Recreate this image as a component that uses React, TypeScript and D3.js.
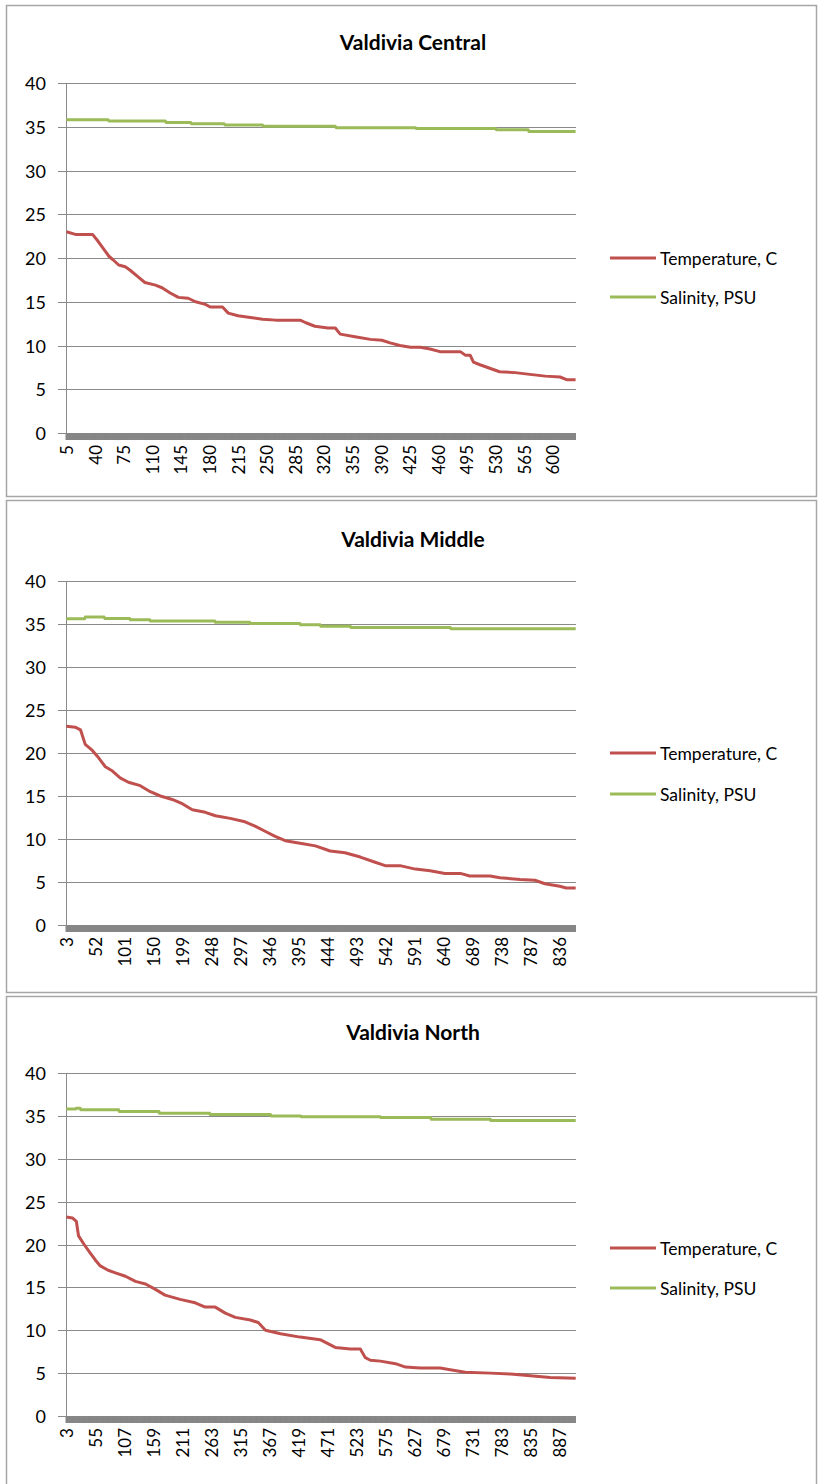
import React from "react";
import * as d3 from "d3";

// ---------- DATA ----------
// Chart 1: Valdivia Central (categories = depth index 5..628)
const centralRange = [5, 628];
const centralTicks = [5, 40, 75, 110, 145, 180, 215, 250, 285, 320, 355, 390, 425, 460, 495, 530, 565, 600];
const centralTemp: [number, number][] = [
  [5, 23.0], [16, 22.7], [37, 22.7], [43, 22.0], [50, 21.1], [57, 20.2], [62, 19.8], [69, 19.2], [77, 19.0],
  [83, 18.6], [92, 17.9], [101, 17.2], [114, 16.9], [122, 16.6], [132, 16.0], [142, 15.5], [154, 15.4],
  [163, 15.0], [175, 14.7], [181, 14.4], [196, 14.4], [203, 13.7], [215, 13.4], [230, 13.2], [245, 13.0],
  [261, 12.9], [291, 12.9], [298, 12.6], [309, 12.2], [325, 12.0], [334, 12.0], [340, 11.3], [358, 11.0],
  [377, 10.7], [391, 10.6], [401, 10.3], [413, 10.0], [426, 9.8], [438, 9.8], [450, 9.6], [462, 9.3],
  [487, 9.3], [493, 8.9], [499, 8.9], [503, 8.1], [511, 7.8], [523, 7.4], [535, 7.0], [554, 6.9],
  [572, 6.7], [591, 6.5], [609, 6.4], [617, 6.1], [628, 6.1],
];
const centralSal: [number, number][] = [
  [5, 35.8], [56, 35.8], [57, 35.65], [126, 35.65], [127, 35.5], [157, 35.5], [158, 35.35], [198, 35.35],
  [199, 35.2], [245, 35.2], [246, 35.05], [334, 35.05], [335, 34.9], [432, 34.9], [433, 34.8], [530, 34.8],
  [531, 34.65], [570, 34.65], [571, 34.45], [628, 34.45],
];

// Chart 2: Valdivia Middle (3..864)
const middleRange = [3, 864];
const middleTicks = [3, 52, 101, 150, 199, 248, 297, 346, 395, 444, 493, 542, 591, 640, 689, 738, 787, 836];
const middleTemp: [number, number][] = [
  [3, 23.1], [18, 23.0], [27, 22.7], [35, 21.0], [47, 20.3], [57, 19.5], [69, 18.4], [81, 17.9], [94, 17.1],
  [108, 16.6], [128, 16.2], [145, 15.5], [162, 15.0], [182, 14.6], [199, 14.1], [216, 13.4], [238, 13.1],
  [255, 12.7], [280, 12.4], [305, 12.0], [322, 11.5], [339, 10.9], [356, 10.3], [373, 9.8], [398, 9.5],
  [424, 9.2], [449, 8.6], [474, 8.4], [500, 7.9], [525, 7.3], [542, 6.9], [567, 6.9], [593, 6.5],
  [618, 6.3], [643, 6.0], [669, 6.0], [685, 5.7], [719, 5.7], [736, 5.5], [770, 5.3], [795, 5.2],
  [812, 4.8], [837, 4.5], [848, 4.3], [864, 4.3],
];
const middleSal: [number, number][] = [
  [3, 35.6], [34, 35.6], [35, 35.8], [67, 35.8], [68, 35.65], [110, 35.65], [111, 35.5], [144, 35.5],
  [145, 35.35], [254, 35.35], [255, 35.2], [313, 35.2], [314, 35.05], [398, 35.05], [399, 34.9], [432, 34.9],
  [433, 34.75], [483, 34.75], [484, 34.6], [652, 34.6], [653, 34.45], [864, 34.45],
];

// Chart 3: Valdivia North (3..916)
const northRange = [3, 916];
const northTicks = [3, 55, 107, 159, 211, 263, 315, 367, 419, 471, 523, 575, 627, 679, 731, 783, 835, 887];
const northTemp: [number, number][] = [
  [3, 23.2], [14, 23.1], [21, 22.7], [25, 21.0], [35, 20.0], [46, 19.0], [55, 18.2], [64, 17.5], [78, 17.0],
  [91, 16.7], [109, 16.3], [127, 15.7], [145, 15.4], [162, 14.8], [180, 14.1], [207, 13.6], [234, 13.2],
  [252, 12.7], [270, 12.7], [288, 12.0], [306, 11.5], [333, 11.2], [347, 10.9], [360, 10.0], [387, 9.6],
  [422, 9.2], [458, 8.9], [485, 8.0], [512, 7.8], [530, 7.8], [539, 6.8], [548, 6.5], [566, 6.4],
  [593, 6.1], [611, 5.7], [637, 5.6], [655, 5.6], [673, 5.6], [691, 5.4], [718, 5.1], [763, 5.0],
  [799, 4.9], [835, 4.7], [870, 4.5], [916, 4.4],
];
const northSal: [number, number][] = [
  [3, 35.8], [20, 35.8], [21, 35.9], [28, 35.9], [29, 35.7], [97, 35.7], [98, 35.5], [169, 35.5],
  [170, 35.3], [260, 35.3], [261, 35.15], [369, 35.15], [370, 35.0], [423, 35.0], [424, 34.9], [566, 34.9],
  [567, 34.8], [656, 34.8], [657, 34.6], [763, 34.6], [764, 34.45], [916, 34.45],
];

const yTicks = [0, 5, 10, 15, 20, 25, 30, 35, 40];
const seriesNames = ["Temperature, C", "Salinity, PSU"];
const seriesColors = ["#C0504D", "#9BBB59"];

const charts = [
  { title: "Valdivia Central", range: centralRange, ticks: centralTicks, temp: centralTemp, sal: centralSal,
    box: [5, 496], plot: [83, 433], titleY: 41, legend: [258, 297] },
  { title: "Valdivia Middle", range: middleRange, ticks: middleTicks, temp: middleTemp, sal: middleSal,
    box: [500, 992], plot: [581, 925], titleY: 538, legend: [753, 794] },
  { title: "Valdivia North", range: northRange, ticks: northTicks, temp: northTemp, sal: northSal,
    box: [996, 1492], plot: [1073, 1416], titleY: 1031, legend: [1248, 1288] },
];

const FONT = "Lato, 'Open Sans', sans-serif";
const GRID = "#8A8A8A";

function Chart({ c }: { c: (typeof charts)[number] }) {
  const left = 66, right = 576;
  const cats = d3.range(c.range[0], c.range[1] + 1);
  const x = d3.scaleBand<number>().domain(cats).range([left, right]).paddingInner(0).paddingOuter(0);
  const bw = x.bandwidth();
  const y = d3.scaleLinear().domain([0, 40]).range([c.plot[1], c.plot[0]]);
  const line = d3.line<[number, number]>()
    .x((d) => (x(d[0]) as number) + bw / 2)
    .y((d) => y(d[1]));
  const bottom = c.plot[1];
  return (
    <g>
      <rect x={6.5} y={c.box[0] + 0.5} width={810} height={c.box[1] - c.box[0]} fill="#fff" stroke="#A6A6A6" strokeWidth={1.5} />
      <text x={413} y={c.titleY} textAnchor="middle" dominantBaseline="central" fontFamily={FONT} fontWeight="bold" fontSize={21} fill="#000">
        {c.title}
      </text>
      {yTicks.map((t) => (
        <g key={t}>
          {t > 0 && <line x1={left} x2={right} y1={Math.round(y(t)) + 0.5} y2={Math.round(y(t)) + 0.5} stroke={GRID} strokeWidth={1} />}
          <line x1={58} x2={left} y1={Math.round(y(t)) + 0.5} y2={Math.round(y(t)) + 0.5} stroke={GRID} strokeWidth={1} />
          <text x={46} y={y(t)} textAnchor="end" dominantBaseline="central" fontFamily={FONT} fontSize={18} fill="#000">{t}</text>
        </g>
      ))}
      <line x1={left + 0.5} x2={left + 0.5} y1={c.plot[0]} y2={bottom} stroke={GRID} strokeWidth={1} />
      {/* dense category tick marks, merging into a solid band */}
      <rect x={left} y={bottom} width={right - left} height={7} fill="#878787" />
      {cats.map((d) => (
        <line key={d} x1={(x(d) as number)} x2={(x(d) as number)} y1={bottom} y2={bottom + 7} stroke="#878787" strokeWidth={1} />
      ))}
      {c.ticks.map((t) => {
        const cx = (x(t) as number) + bw / 2;
        const ty = bottom + 12;
        return (
          <text key={t} transform={`translate(${cx},${ty}) rotate(-90)`} textAnchor="end" dominantBaseline="central"
            fontFamily={FONT} fontSize={17} fill="#000">{t}</text>
        );
      })}
      <path d={line(c.temp) || ""} fill="none" stroke={seriesColors[0]} strokeWidth={3} strokeLinejoin="round" />
      <path d={line(c.sal) || ""} fill="none" stroke={seriesColors[1]} strokeWidth={3} strokeLinejoin="round" />
      {seriesNames.map((n, i) => (
        <g key={n}>
          <line x1={610} x2={656} y1={c.legend[i]} y2={c.legend[i]} stroke={seriesColors[i]} strokeWidth={3} />
          <text x={660} y={c.legend[i]} dominantBaseline="central" fontFamily={FONT} fontSize={17.5} fill="#000">{n}</text>
        </g>
      ))}
    </g>
  );
}

export default function App() {
  return (
    <svg width={818} height={1484} style={{ position: "absolute", left: 0, top: 0, background: "#fff" }}>
      <rect x={0} y={0} width={818} height={1484} fill="#fff" />
      {charts.map((c) => (
        <Chart key={c.title} c={c} />
      ))}
    </svg>
  );
}
